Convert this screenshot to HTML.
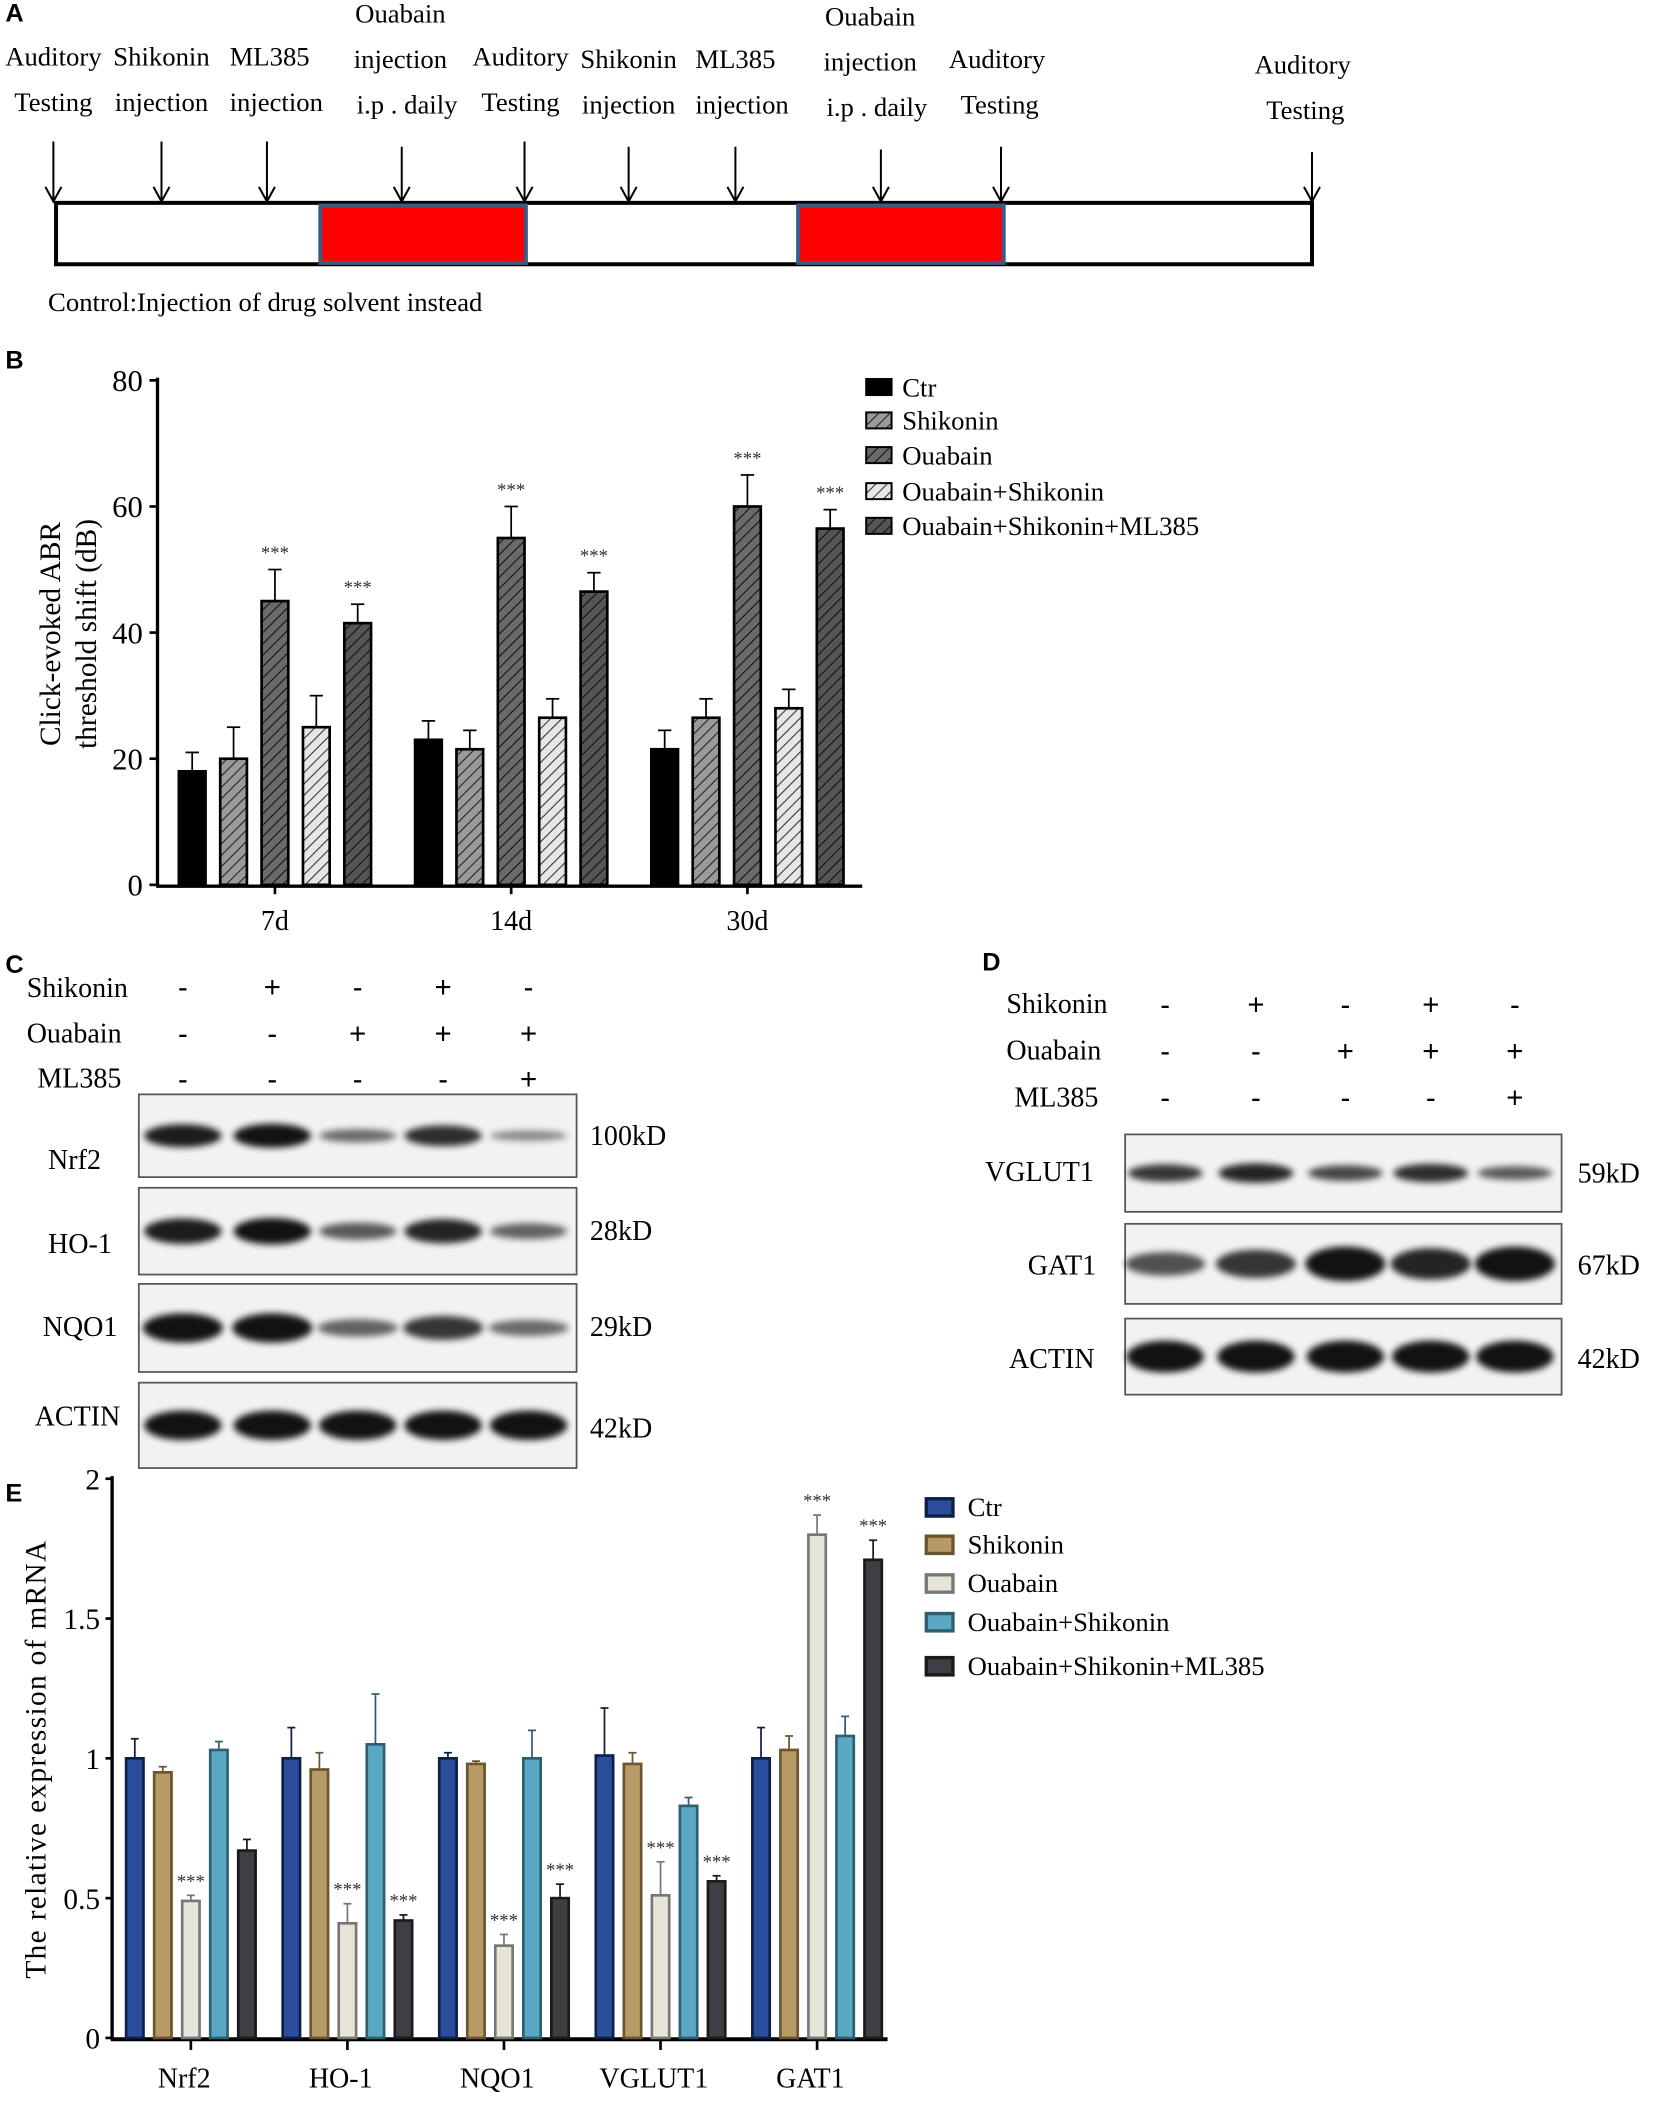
<!DOCTYPE html>
<html><head><meta charset="utf-8"><style>
html,body{margin:0;padding:0;background:#fff}
svg{display:block;font-family:"Liberation Serif",serif}
</style></head><body>
<svg id="fig" width="1655" height="2102" viewBox="0 0 1240 1575" preserveAspectRatio="none">
<defs>
<pattern id="hLight" width="6" height="6" patternUnits="userSpaceOnUse" patternTransform="rotate(45)"><rect width="6" height="6" fill="#e6e6e6"/><line x1="0" y1="0" x2="0" y2="6" stroke="#333" stroke-width="1.6"/></pattern>
<pattern id="hMid" width="6" height="6" patternUnits="userSpaceOnUse" patternTransform="rotate(45)"><rect width="6" height="6" fill="#9a9a9a"/><line x1="0" y1="0" x2="0" y2="6" stroke="#222" stroke-width="1.6"/></pattern>
<pattern id="hDark" width="6" height="6" patternUnits="userSpaceOnUse" patternTransform="rotate(45)"><rect width="6" height="6" fill="#6a6a6a"/><line x1="0" y1="0" x2="0" y2="6" stroke="#111" stroke-width="1.6"/></pattern>
<pattern id="hDarker" width="6" height="6" patternUnits="userSpaceOnUse" patternTransform="rotate(45)"><rect width="6" height="6" fill="#555"/><line x1="0" y1="0" x2="0" y2="6" stroke="#111" stroke-width="1.6"/></pattern>
<filter id="blur" x="-30%" y="-100%" width="160%" height="300%"><feGaussianBlur stdDeviation="2.6"/></filter>
</defs>

<!-- Panel A -->
<g font-size="20">
<text x="4" y="16" font-family="Liberation Sans" font-weight="bold" font-size="19">A</text>
<rect x="42" y="152" width="941" height="46" fill="#fff" stroke="#000" stroke-width="3"/>
<rect x="240" y="154" width="154" height="43" fill="#f00" stroke="#3b5a85" stroke-width="3"/>
<rect x="598" y="154" width="154" height="43" fill="#f00" stroke="#3b5a85" stroke-width="3"/>
<g id="arrows" stroke="#000" stroke-width="1.5" fill="none"></g>
<g text-anchor="middle">
<text x="40" y="49">Auditory</text><text x="40" y="83">Testing</text>
<text x="121" y="49">Shikonin</text><text x="121" y="83">injection</text>
<text x="202" y="49">ML385</text><text x="207" y="83">injection</text>
<text x="300" y="17">Ouabain</text><text x="300" y="51">injection</text><text x="305" y="85">i.p . daily</text>
<text x="390" y="49">Auditory</text><text x="390" y="83">Testing</text>
<text x="471" y="51">Shikonin</text><text x="471" y="85">injection</text>
<text x="551" y="51">ML385</text><text x="556" y="85">injection</text>
<text x="652" y="19">Ouabain</text><text x="652" y="53">injection</text><text x="657" y="87">i.p . daily</text>
<text x="747" y="51">Auditory</text><text x="749" y="85">Testing</text>
<text x="976" y="55">Auditory</text><text x="978" y="89">Testing</text>
</g>
<text x="36" y="233">Control:Injection of drug solvent instead</text>
</g>

<!-- Panel B -->
<g id="panelB">
<text x="4" y="276" font-family="Liberation Sans" font-weight="bold" font-size="19">B</text>
<text transform="translate(45,475) rotate(-90)" text-anchor="middle" font-size="22">Click-evoked ABR</text>
<text transform="translate(72,475) rotate(-90)" text-anchor="middle" font-size="22">threshold shift (dB)</text>
</g>

<!-- Panel C -->
<g id="panelC" font-size="21">
<text x="4" y="729" font-family="Liberation Sans" font-weight="bold" font-size="19">C</text>
<text x="20" y="747">Shikonin</text><text x="20" y="781">Ouabain</text><text x="28" y="815">ML385</text>
<text x="36" y="876">Nrf2</text><text x="36" y="939">HO-1</text><text x="32" y="1001">NQO1</text><text x="26" y="1068">ACTIN</text>
<text x="442" y="858">100kD</text><text x="442" y="929">28kD</text><text x="442" y="1001">29kD</text><text x="442" y="1077">42kD</text>
</g>

<!-- Panel D -->
<g id="panelD" font-size="21">
<text x="736" y="727" font-family="Liberation Sans" font-weight="bold" font-size="19">D</text>
<text x="754" y="759">Shikonin</text><text x="754" y="794">Ouabain</text><text x="760" y="829">ML385</text>
<text x="738" y="885">VGLUT1</text><text x="770" y="955">GAT1</text><text x="756" y="1025">ACTIN</text>
<text x="1182" y="886">59kD</text><text x="1182" y="955">67kD</text><text x="1182" y="1025">42kD</text>
</g>

<!-- Panel E -->
<g id="panelE">
<text x="4" y="1125" font-family="Liberation Sans" font-weight="bold" font-size="19">E</text>
<text transform="translate(34,1318) rotate(-90)" text-anchor="middle" font-size="22" letter-spacing="1">The relative expression of  mRNA</text>
</g>
</svg>

<script>
const NS="http://www.w3.org/2000/svg";
function mk(parent,tag,attrs){const e=document.createElementNS(NS,tag);for(const k in attrs)e.setAttribute(k,attrs[k]);parent.appendChild(e);return e;}

// ---- Panel A arrows
const arrowX=[40,121,200,301,393,471,551,660,750,983];
const arrowTop=[106,106,106,110,106,110,110,112,110,114];
const ag=document.getElementById('arrows');
arrowX.forEach((x,i)=>{
  const l=mk(ag,'path',{d:`M${x} ${arrowTop[i]} L${x} 151 M${x-6} 140 L${x} 151 L${x+6} 140`});
  
  
});

// ---- Panel B data
const bCategories=["7d","14d","30d"];
const bSeries=["Ctr","Shikonin","Ouabain","Ouabain+Shikonin","Ouabain+Shikonin+ML385"];
const bCtr=[18,23,21.5];
const bShik=[20,21.5,26.5];
const bOua=[45,55,60];
const bOuaShik=[25,26.5,28];
const bOuaShikML=[41.5,46.5,56.5];
const bErr=[[3,3,3],[5,3,3],[5,5,5],[5,3,3],[3,3,3]];
const bSig=[[false,false,false],[false,false,false],[true,true,true],[false,false,false],[true,true,true]];
const bTicks=[0,20,40,60,80];
(function(){
  const g=document.getElementById('panelB');
  const vals=[bCtr,bShik,bOua,bOuaShik,bOuaShikML];
  const fills=["#000","url(#hMid)","url(#hDark)","url(#hLight)","url(#hDarker)"];
  const y=v=>663-v*(378/80);
  const gx=i=>206+i*177;
  const bx=(i,s)=>gx(i)+(s-2)*31;
  let a=mk(g,'line',{x1:118,y1:283,x2:118,y2:664,stroke:'#000','stroke-width':2.5});
  
  a=mk(g,'line',{x1:117,y1:664,x2:646,y2:664,stroke:'#000','stroke-width':2.5});
  
  bTicks.forEach(t=>{
    const tk=mk(g,'line',{x1:112,y1:y(t),x2:118,y2:y(t),stroke:'#000','stroke-width':2});
    
    const tx=mk(g,'text',{x:107,y:y(t)+8,'text-anchor':'end','font-size':23});
    tx.textContent=t;
    
  });
  bCategories.forEach((c,i)=>{
    const tk=mk(g,'line',{x1:gx(i),y1:664,x2:gx(i),y2:670,stroke:'#000','stroke-width':2});
    
    const tx=mk(g,'text',{x:gx(i),y:697,'text-anchor':'middle','font-size':21});
    tx.textContent=c;
    
  });
  vals.forEach((arr,s)=>{
    arr.forEach((v,i)=>{
      const x=bx(i,s);
      const e=mk(g,'line',{x1:x,y1:y(v),x2:x,y2:y(v+bErr[s][i]),stroke:'#000','stroke-width':1.3});
      
      const c=mk(g,'line',{x1:x-5,y1:y(v+bErr[s][i]),x2:x+5,y2:y(v+bErr[s][i]),stroke:'#000','stroke-width':1.3});
      
      const r=mk(g,'rect',{x:x-10,y:y(v),width:20,height:663-y(v),fill:fills[s],stroke:'#000','stroke-width':2});
      
      
      if(bSig[s][i]){
        const t=mk(g,'text',{x:x,y:y(v+bErr[s][i])-8,'text-anchor':'middle','font-size':14,fill:'#333'});
        t.textContent='***';
        
      }
    });
  });
  bSeries.forEach((n,s)=>{
    const ly=[290,315,341,368,394][s];
    const r=mk(g,'rect',{x:649,y:ly-6,width:19,height:12,fill:fills[s],stroke:'#000','stroke-width':1.5});
    
    const t=mk(g,'text',{x:676,y:ly+7,'font-size':20});
    t.textContent=n;
    
  });
})();

// ---- Blots
function signs(g,xs,ys,rows){
  rows.forEach((row,r)=>row.forEach((s,i)=>{
    const t=mk(g,'text',{x:xs[i],y:ys[r],'text-anchor':'middle','font-size':22,'font-family':'Liberation Sans'});
    t.textContent=s==='+'?'+':'-';
    
  }));
}
const treatRows=[["-","+","-","+","-"],["-","-","+","+","+"],["-","-","-","-","+"]];
function blot(g,name,x,y,w,h,lanes,ints,bw,bh){
  const b=mk(g,'rect',{x:x,y:y,width:w,height:h,fill:'#f2f2f2',stroke:'#555','stroke-width':1.3});
  
  lanes.forEach((lx,i)=>{
    const e=mk(g,'ellipse',{cx:lx,cy:y+h/2,rx:bw/2,ry:bh*ints[i]/2+1,fill:'#000',opacity:0.2+0.72*ints[i],filter:'url(#blur)'});
    
  });
}
(function(){
  const g=document.getElementById('panelC');
  const lanes=[137,204,268,332,396];
  signs(g,lanes,[747,782,816],treatRows);
  blot(g,'nrf2',104,820,328,62,lanes,[0.95,1,0.5,0.85,0.35],58,16);
  blot(g,'ho1',104,890,328,65,lanes,[0.95,1,0.6,0.9,0.55],58,18);
  blot(g,'nqo1',104,962,328,66,lanes,[1,1,0.55,0.8,0.5],60,20);
  blot(g,'actin-c',104,1036,328,64,lanes,[1,1,1,1,1],58,20);
})();
(function(){
  const g=document.getElementById('panelD');
  const lanes=[873,941,1008,1072,1135];
  signs(g,lanes,[760,795,830],treatRows);
  blot(g,'vglut1',843,850,327,58,lanes,[0.8,0.9,0.7,0.85,0.6],56,14);
  blot(g,'gat1',843,917,327,60,lanes,[0.65,0.8,1,0.9,1],60,24);
  blot(g,'actin-d',843,988,327,57,lanes,[1,1,1,1,1],58,22);
})();

// ---- Panel E data
const eCategories=["Nrf2","HO-1","NQO1","VGLUT1","GAT1"];
const eSeries=["Ctr","Shikonin","Ouabain","Ouabain+Shikonin","Ouabain+Shikonin+ML385"];
const eCtr=[1.0,1.0,1.0,1.01,1.0];
const eShik=[0.95,0.96,0.98,0.98,1.03];
const eOua=[0.49,0.41,0.33,0.51,1.8];
const eOuaShik=[1.03,1.05,1.0,0.83,1.08];
const eOuaShikML=[0.67,0.42,0.5,0.56,1.71];
const eErr=[[0.07,0.11,0.02,0.17,0.11],[0.02,0.06,0.01,0.04,0.05],[0.02,0.07,0.04,0.12,0.07],[0.03,0.18,0.1,0.03,0.07],[0.04,0.02,0.05,0.02,0.07]];
const eSig=[[0,0,0,0,0],[0,0,0,0,0],[1,1,1,1,1],[0,0,0,0,0],[0,1,1,1,1]];
const eTicks=["0","0.5","1","1.5","2"];
(function(){
  const g=document.getElementById('panelE');
  const vals=[eCtr,eShik,eOua,eOuaShik,eOuaShikML];
  const fills=["#2b4e9c","#b89a66","#e8e4d8","#5aa8c4","#3d3f44"];
  const strokes=["#0d1f45","#6b5530","#777","#2e5f70","#1a1a1a"];
  const y=v=>1527-v*209.5;
  const gx=i=>143+i*117.3;
  const bx=(i,s)=>gx(i)+(s-2)*21;
  let a=mk(g,'line',{x1:84,y1:1106,x2:84,y2:1528,stroke:'#000','stroke-width':2.5});
  
  a=mk(g,'line',{x1:83,y1:1528,x2:665,y2:1528,stroke:'#000','stroke-width':3});
  
  eTicks.forEach(t=>{
    const v=parseFloat(t);
    const tk=mk(g,'line',{x1:79,y1:y(v),x2:84,y2:y(v),stroke:'#000','stroke-width':2});
    
    const tx=mk(g,'text',{x:75,y:y(v)+8,'text-anchor':'end','font-size':22});
    tx.textContent=t;
    
  });
  eCategories.forEach((c,i)=>{
    const tk=mk(g,'line',{x1:gx(i),y1:1528,x2:gx(i),y2:1536,stroke:'#000','stroke-width':2});
    
    const tx=mk(g,'text',{x:gx(i)-5,y:1564,'text-anchor':'middle','font-size':21});
    tx.textContent=c;
    
  });
  vals.forEach((arr,s)=>{
    arr.forEach((v,i)=>{
      const x=bx(i,s);
      const top=y(v+eErr[s][i]);
      const e=mk(g,'line',{x1:x,y1:y(v),x2:x,y2:top,stroke:strokes[s],'stroke-width':1.3});
      
      const c=mk(g,'line',{x1:x-3,y1:top,x2:x+3,y2:top,stroke:strokes[s],'stroke-width':1.3});
      
      const r=mk(g,'rect',{x:x-6.5,y:y(v),width:13,height:1527-y(v),fill:fills[s],stroke:strokes[s],'stroke-width':2});
      
      
      if(eSig[s][i]){
        const t=mk(g,'text',{x:x,y:top-6,'text-anchor':'middle','font-size':14,fill:'#333'});
        t.textContent='***';
        
      }
    });
  });
  eSeries.forEach((n,s)=>{
    const ly=[1129,1157,1186,1215,1248][s];
    const r=mk(g,'rect',{x:694,y:ly-6,width:20,height:13,fill:fills[s],stroke:strokes[s],'stroke-width':2.5});
    
    const t=mk(g,'text',{x:725,y:ly+7,'font-size':20});
    t.textContent=n;
    
  });
})();
</script>
</body></html>
